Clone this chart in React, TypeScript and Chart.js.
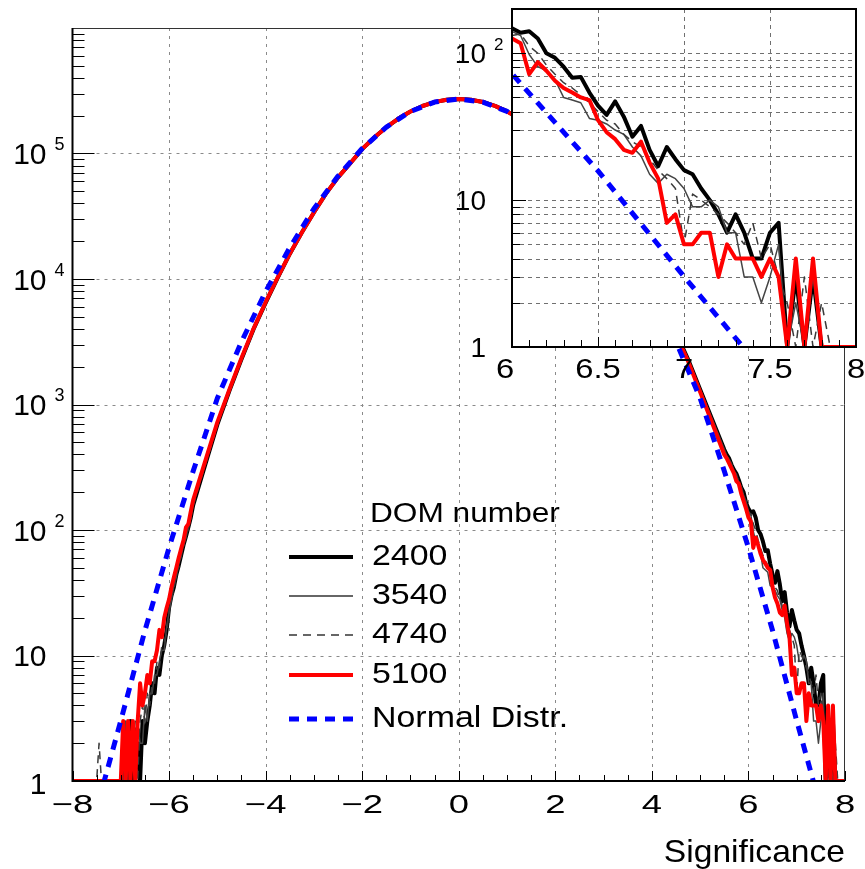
import React, { useEffect, useRef } from 'react';
import { Chart, registerables } from 'chart.js';

Chart.register(...registerables);

const FONT_FAMILY = '"Liberation Sans", Arial, Helvetica, sans-serif';

// ---------------- data (bin centres and counts) ----------------
const X_LEFT = [-8.0, -7.5, -7.45, -7.4, -7.35, -7.3, -7.25, -7.2, -7.15, -7.1, -7.05, -7.0, -6.95, -6.9, -6.85, -6.8, -6.75, -6.7, -6.65, -6.6, -6.55, -6.5, -6.45, -6.4, -6.35, -6.3, -6.25, -6.2, -6.15, -6.1, -6.05, -6.0, -5.95, -5.9, -5.85, -5.8, -5.75, -5.7, -5.65, -5.6, -5.55];
const X_CORE = [-5.5, -5.25, -5.0, -4.75, -4.5, -4.25, -4.0, -3.75, -3.5, -3.25, -3.0, -2.75, -2.5, -2.25, -2.0, -1.75, -1.5, -1.25, -1.0, -0.75, -0.5, -0.25, 0, 0.25, 0.5, 0.75, 1.0, 1.25, 1.5, 1.75, 2.0, 2.25, 2.5, 2.75, 3.0, 3.25, 3.5, 3.75, 4.0, 4.25, 4.5, 4.75, 5.0, 5.25, 5.5];
const X_RIGHT = [5.55, 5.6, 5.65, 5.7, 5.75, 5.8, 5.85, 5.9, 5.95, 6.0, 6.05, 6.1, 6.15, 6.2, 6.25, 6.3, 6.35, 6.4, 6.45, 6.5, 6.55, 6.6, 6.65, 6.7, 6.75, 6.8, 6.85, 6.9, 6.95, 7.0, 7.05, 7.1, 7.15, 7.2, 7.25, 7.3, 7.35, 7.4, 7.45, 7.5, 7.55, 7.6, 7.65, 7.7, 7.75, 7.8, 7.85, 7.9, 7.95, 8.0];

const C2400_LEFT = [0, 0, 0, 0, 0, 0, 0, 0, 0, 0, 0, 0, 0, 2, 0, 3, 1, 0, 2, 1, 3, 2, 3, 4, 6, 5, 8, 7, 10, 12, 16, 24, 30, 35, 44, 52, 63, 76, 89, 105, 126];
const C3540_LEFT = [0, 0, 0, 0, 0, 0, 0, 0, 0, 0, 0, 0, 0, 3, 1, 0, 2, 1, 3, 2, 2, 4, 3, 5, 5, 7, 7, 9, 11, 11, 17, 22, 28, 36, 42, 54, 61, 78, 86, 108, 122];
const C4740_LEFT = [0, 0, 2, 0, 1, 0, 0, 0, 0, 0, 0, 1, 0, 2, 3, 0, 2, 3, 1, 3, 4, 3, 5, 4, 6, 6, 9, 8, 12, 13, 15, 23, 29, 33, 46, 50, 66, 72, 92, 101, 130];
const C5100_LEFT = [0, 0, 0, 0, 0, 0, 0, 0, 0, 0, 0, 0, 3, 0, 3, 1, 3, 0, 3, 6, 4, 5, 7, 6, 9, 9, 11, 16, 14, 20, 24, 28, 35, 42, 50, 60, 71, 83, 105, 112, 141];

const C2400_CORE = [158, 331, 692, 1288, 2291, 3981, 6457, 10230, 15850, 23440, 33880, 47860, 64570, 83180, 108400, 134000, 161800, 189900, 216000, 239000, 256800, 268300, 272000, 268400, 257200, 239500, 216600, 190500, 162600, 135000, 110200, 87100, 67610, 51880, 38020, 27540, 19500, 13490, 8913, 5888, 3715, 2291, 1318, 759, 437];
const C3540_CORE = [160, 335, 700, 1295, 2300, 3990, 6470, 10240, 15870, 23450, 33890, 47870, 64580, 83190, 108450, 134050, 161850, 189950, 216050, 239050, 256850, 268350, 272050, 268450, 257250, 239550, 216650, 190550, 162650, 135050, 110250, 87150, 67650, 51900, 38050, 27560, 19520, 13500, 8930, 5900, 3730, 2300, 1325, 765, 440];
const C4740_CORE = [156, 328, 688, 1280, 2285, 3975, 6450, 10220, 15840, 23430, 33870, 47850, 64560, 83170, 108350, 133950, 161750, 189850, 215950, 238950, 256750, 268250, 271950, 268350, 257150, 239450, 216550, 190450, 162550, 134950, 110150, 87050, 67560, 51850, 37990, 27510, 19480, 13470, 8895, 5875, 3705, 2285, 1312, 754, 434];
const C5100_CORE = [174, 355, 724, 1318, 2344, 4027, 6531, 10300, 15900, 23500, 33900, 47900, 64600, 83200, 108500, 134100, 161900, 190000, 216100, 239100, 256900, 268400, 272100, 268300, 257000, 239300, 216400, 190200, 162300, 134600, 109800, 86500, 66900, 51200, 37400, 27000, 19050, 13100, 8610, 5700, 3590, 2213, 1259, 708, 398];

const C2400_RIGHT = [398, 372, 331, 302, 282, 251, 219, 200, 166, 148, 138, 141, 126, 100, 93, 81, 68, 69, 54, 44, 38, 47, 37, 27, 32, 22, 17, 23, 19, 16, 15, 12, 10, 8, 6, 8, 6, 4, 4, 6, 7, 0, 3, 0, 3, 0, 0, 0, 0, 0];
const C3540_RIGHT = [390, 365, 338, 295, 278, 240, 224, 190, 170, 141, 132, 98, 81, 76, 66, 50, 48, 46, 36, 35, 33, 30, 28, 23, 20, 15, 13, 15, 14, 12, 9, 9, 10, 9, 6, 6, 3, 3, 2, 3, 5, 0, 2, 0, 3, 0, 0, 0, 0, 0];
const C4740_RIGHT = [385, 360, 325, 300, 270, 246, 215, 185, 160, 132, 135, 112, 100, 83, 72, 63, 58, 52, 46, 40, 35, 33, 28, 25, 23, 19, 16, 14, 12, 5, 11, 10, 9, 8, 7, 6, 5, 7, 4, 5, 3, 2, 0, 3, 0, 2, 0, 0, 0, 0];
const C5100_RIGHT = [372, 339, 309, 282, 245, 234, 195, 170, 148, 126, 117, 72, 87, 76, 65, 58, 54, 50, 48, 35, 29, 26, 22, 21, 25, 18, 14, 7, 8, 5, 5, 6, 6, 3, 5, 4, 4, 4, 3, 4, 3, 0, 4, 0, 4, 0, 0, 0, 0, 0];

const X_NORMAL = [-8, -7.5, -7, -6.5, -6, -5.5, -5, -4.5, -4, -3.5, -3, -2.5, -2, -1.5, -1, -0.5, 0, 0.5, 1, 1.5, 2, 2.5, 3, 3.5, 4, 4.5, 5, 5.5, 6, 6.5, 7, 7.5, 8];
const NORMAL = [0.1, 0.603, 3.02, 15.8, 72.4, 295, 1122, 3162, 7943, 17780, 36310, 66070, 109600, 162200, 216300, 257000, 272300, 257000, 216300, 162200, 109600, 66070, 36310, 17780, 7943, 3162, 1122, 295, 72.4, 15.8, 3.02, 0.603, 0.1];

const SERIES_LABELS = ['2400', '3540', '4740', '5100'];
const NORMAL_LABEL = 'Normal Distr.';
const LEGEND_HEADER = 'DOM number';
const X_TITLE = 'Significance';

const X_TICKS = [-8, -6, -4, -2, 0, 2, 4, 6, 8];
const Y_DECADES = [1, 10, 100, 1000, 10000, 100000];
const INSET_X_TICKS = [6, 6.5, 7, 7.5, 8];
const INSET_Y_DECADES = [1, 10, 100];

const Y_MIN = 1;

// ---------------- helpers ----------------
const X_ALL = [...X_LEFT, ...X_CORE, ...X_RIGHT];
const COUNTS = [
  [...C2400_LEFT, ...C2400_CORE, ...C2400_RIGHT],
  [...C3540_LEFT, ...C3540_CORE, ...C3540_RIGHT],
  [...C4740_LEFT, ...C4740_CORE, ...C4740_RIGHT],
  [...C5100_LEFT, ...C5100_CORE, ...C5100_RIGHT],
];
const STYLES = [
  { color: '#000000', width: 4, dash: [] as number[] },
  { color: '#444444', width: 1.5, dash: [] as number[] },
  { color: '#3a3a3a', width: 1.5, dash: [8, 6] },
  { color: '#ff0000', width: 4, dash: [] as number[] },
];

// empty bins are drawn on the axis floor (as the histogram package does)
function histPoints(xs: number[], ys: number[]) {
  return xs.map((x, i) => ({ x, y: ys[i] > 0 ? ys[i] : Y_MIN }));
}

function makeDatasets(): any[] {
  const common = { pointRadius: 0, pointHoverRadius: 0, tension: 0, fill: false, borderJoinStyle: 'round', borderCapStyle: 'butt' };
  const ds: any[] = SERIES_LABELS.map((label, i) => ({
    label,
    data: histPoints(X_ALL, COUNTS[i]),
    borderColor: STYLES[i].color,
    backgroundColor: STYLES[i].color,
    borderWidth: STYLES[i].width,
    borderDash: STYLES[i].dash,
    order: 5 - i,
    ...common,
  }));
  ds.push({
    label: NORMAL_LABEL,
    data: X_NORMAL.map((x, i) => ({ x, y: NORMAL[i] })),
    borderColor: '#0000ff',
    backgroundColor: '#0000ff',
    borderWidth: 5,
    borderDash: [10, 8],
    order: 0,
    ...common,
  });
  return ds;
}

function drawText(ctx: CanvasRenderingContext2D, s: string, x: number, baseline: number, size: number, align: 'left' | 'right' | 'center', sx = 1) {
  ctx.save();
  ctx.font = `${size}px ${FONT_FAMILY}`;
  ctx.textBaseline = 'alphabetic';
  ctx.textAlign = 'left';
  ctx.setLineDash([]);
  const w = ctx.measureText(s).width * sx;
  const left = align === 'left' ? x : align === 'right' ? x - w : x - w / 2;
  ctx.translate(left, baseline);
  ctx.scale(sx, 1);
  ctx.fillStyle = '#000000';
  ctx.fillText(s, 0, 0);
  ctx.restore();
  return w;
}

function drawLogLabel(ctx: CanvasRenderingContext2D, v: number, rightX: number, py: number, size: number, supSize: number, oneShift: number) {
  const e = Math.round(Math.log10(v));
  const base = py + 0.358 * size;
  if (e === 0) {
    drawText(ctx, '1', rightX, base + oneShift, size, 'right');
  } else if (e === 1) {
    drawText(ctx, '10', rightX, base, size, 'right');
  } else {
    drawText(ctx, '10', rightX, base, size, 'right');
    drawText(ctx, String(e), rightX + 8, py - 3.5, supSize, 'left');
  }
}

const fmtX = (v: number) => (v < 0 ? '\u2212' + Math.abs(v) : String(v));

// ---------------- main chart decorations ----------------
const mainDecor = {
  id: 'mainDecor',
  beforeDatasetsDraw(chart: any) {
    const { ctx, chartArea: a } = chart;
    const xs = chart.scales.x;
    const ys = chart.scales.y;
    ctx.save();
    ctx.fillStyle = '#ffffff';
    ctx.fillRect(a.left, a.top, a.right - a.left, a.bottom - a.top);
    ctx.lineWidth = 1;
    ctx.strokeStyle = '#8a8a8a';
    ctx.setLineDash([3, 5]);
    ctx.beginPath();
    for (const v of X_TICKS) {
      if (v <= xs.min || v >= xs.max) continue;
      const px = Math.round(xs.getPixelForValue(v)) + 0.5;
      ctx.moveTo(px, a.top);
      ctx.lineTo(px, a.bottom);
    }
    for (const v of Y_DECADES) {
      if (v <= ys.min) continue;
      const py = Math.round(ys.getPixelForValue(v)) + 0.5;
      ctx.moveTo(a.left, py);
      ctx.lineTo(a.right, py);
    }
    ctx.stroke();
    ctx.restore();
  },
  afterDatasetsDraw(chart: any) {
    const { ctx, chartArea: a } = chart;
    const xs = chart.scales.x;
    const ys = chart.scales.y;
    ctx.save();
    ctx.setLineDash([]);
    ctx.strokeStyle = '#333333';
    ctx.lineWidth = 1;
    ctx.beginPath();
    ctx.moveTo(a.left, a.top + 0.5);
    ctx.lineTo(a.right, a.top + 0.5);
    ctx.moveTo(a.right - 0.5, a.top);
    ctx.lineTo(a.right - 0.5, a.bottom);
    ctx.stroke();
    ctx.strokeStyle = '#000000';
    ctx.beginPath();
    for (let i = 0; i <= 32; i++) {
      const v = xs.min + i * 0.5;
      const len = i % 4 === 0 ? 10 : 6;
      const px = Math.round(xs.getPixelForValue(v)) + 0.5;
      ctx.moveTo(px, a.bottom);
      ctx.lineTo(px, a.bottom - len);
    }
    for (let e = 0; e < 6; e++) {
      for (let m = 1; m <= 9; m++) {
        const v = m * Math.pow(10, e);
        if (v <= ys.min) continue;
        const len = m === 1 ? 22 : 12;
        const py = Math.round(ys.getPixelForValue(v)) + 0.5;
        ctx.moveTo(a.left, py);
        ctx.lineTo(a.left + len, py);
      }
    }
    ctx.stroke();
    ctx.lineWidth = 2;
    ctx.beginPath();
    ctx.moveTo(a.left, a.top);
    ctx.lineTo(a.left, a.bottom);
    ctx.lineTo(a.right, a.bottom);
    ctx.stroke();
    ctx.restore();

    for (const v of Y_DECADES) {
      drawLogLabel(ctx, v, a.left - 26, ys.getPixelForValue(v), 30, 18, 2);
    }
    for (const v of X_TICKS) {
      drawText(ctx, fmtX(v), xs.getPixelForValue(v), a.bottom + 32, 26, 'center', 1.4);
    }
    drawText(ctx, X_TITLE, a.right, a.bottom + 81, 32, 'right', 1.05);

    drawText(ctx, LEGEND_HEADER, 370, 512 + 10, 28, 'left', 1.13);
    const rows = [555, 594, 633, 673, 717];
    const datasets = chart.data.datasets;
    rows.forEach((ry, i) => {
      const d = datasets[i];
      ctx.save();
      ctx.strokeStyle = i === 1 || i === 2 ? '#666666' : d.borderColor;
      ctx.lineWidth = i === 1 || i === 2 ? 2 : d.borderWidth;
      ctx.setLineDash(d.borderDash || []);
      ctx.lineCap = 'butt';
      ctx.beginPath();
      ctx.moveTo(289, ry + 2);
      ctx.lineTo(353, ry + 2);
      ctx.stroke();
      ctx.restore();
      drawText(ctx, d.label, 372, ry + 10.4, 29, 'left', 1.17);
    });
  },
};

// ---------------- inset decorations ----------------
const insetDecor = {
  id: 'insetDecor',
  beforeDatasetsDraw(chart: any) {
    const { ctx, chartArea: a } = chart;
    const xs = chart.scales.x;
    const ys = chart.scales.y;
    ctx.save();
    ctx.fillStyle = '#ffffff';
    ctx.fillRect(a.left, a.top, a.right - a.left, a.bottom - a.top);
    ctx.lineWidth = 1;
    ctx.strokeStyle = '#707070';
    ctx.setLineDash([4, 4]);
    ctx.beginPath();
    for (const v of INSET_X_TICKS) {
      if (v <= xs.min || v >= xs.max) continue;
      const px = Math.round(xs.getPixelForValue(v)) + 0.5;
      ctx.moveTo(px, a.top);
      ctx.lineTo(px, a.bottom);
    }
    for (const d of INSET_Y_DECADES) {
      for (let m = 1; m <= 9; m++) {
        const v = m * d;
        if (v <= ys.min || v >= ys.max) continue;
        const py = Math.round(ys.getPixelForValue(v)) + 0.5;
        ctx.moveTo(a.left, py);
        ctx.lineTo(a.right, py);
      }
    }
    ctx.stroke();
    ctx.restore();
  },
  afterDatasetsDraw(chart: any) {
    const { ctx, chartArea: a } = chart;
    const xs = chart.scales.x;
    const ys = chart.scales.y;
    ctx.save();
    ctx.setLineDash([]);
    ctx.strokeStyle = '#000000';
    ctx.lineWidth = 1;
    ctx.beginPath();
    for (let i = 0; i <= 20; i++) {
      const v = xs.min + i * 0.1;
      const len = i % 5 === 0 ? 10 : 7;
      const px = Math.round(xs.getPixelForValue(v)) + 0.5;
      ctx.moveTo(px, a.bottom);
      ctx.lineTo(px, a.bottom - len);
    }
    for (const d of INSET_Y_DECADES) {
      for (let m = 1; m <= 9; m++) {
        const v = m * d;
        if (v <= ys.min || v >= ys.max) continue;
        const len = m === 1 ? 14 : 8;
        const py = Math.round(ys.getPixelForValue(v)) + 0.5;
        ctx.moveTo(a.left, py);
        ctx.lineTo(a.left + len, py);
      }
    }
    ctx.stroke();
    ctx.lineWidth = 2;
    ctx.strokeRect(a.left, a.top, a.right - a.left, a.bottom - a.top);
    ctx.restore();

    for (const v of INSET_Y_DECADES) {
      drawLogLabel(ctx, v, a.left - 26, ys.getPixelForValue(v), 28, 17, 0);
    }
    INSET_X_TICKS.forEach((v, i) => {
      const px = xs.getPixelForValue(v) + (i === 0 ? -7 : 0);
      drawText(ctx, String(v), px, a.bottom + 31, 28, 'center', 1.17);
    });
  },
};

export default function App() {
  const mainRef = useRef<HTMLCanvasElement>(null);
  const insetRef = useRef<HTMLCanvasElement>(null);

  useEffect(() => {
    const common: any = {
      responsive: false,
      animation: false,
      events: [],
      plugins: { legend: { display: false }, tooltip: { enabled: false } },
    };
    const main = new Chart(mainRef.current as HTMLCanvasElement, {
      type: 'line',
      data: { datasets: makeDatasets() },
      options: {
        ...common,
        layout: { padding: { left: 72.5, top: 28, right: 20, bottom: 88 } },
        scales: {
          x: { type: 'linear', min: -8, max: 8, display: false },
          y: { type: 'logarithmic', min: Y_MIN, max: 1e6, display: false },
        },
      },
      plugins: [mainDecor],
    } as any);
    const inset = new Chart(insetRef.current as HTMLCanvasElement, {
      type: 'line',
      data: { datasets: makeDatasets() },
      options: {
        ...common,
        layout: { padding: { left: 72, top: 9, right: 9, bottom: 53 } },
        scales: {
          x: { type: 'linear', min: 6, max: 8, display: false },
          y: { type: 'logarithmic', min: Y_MIN, max: 200, display: false },
        },
      },
      plugins: [insetDecor],
    } as any);
    return () => {
      main.destroy();
      inset.destroy();
    };
  }, []);

  return (
    <div style={{ position: 'absolute', left: 0, top: 0, width: 865, height: 869, background: '#ffffff', overflow: 'hidden' }}>
      <canvas ref={mainRef} width={865} height={869} style={{ position: 'absolute', left: 0, top: 0 }} />
      <canvas ref={insetRef} width={425} height={400} style={{ position: 'absolute', left: 440, top: 0 }} />
    </div>
  );
}
